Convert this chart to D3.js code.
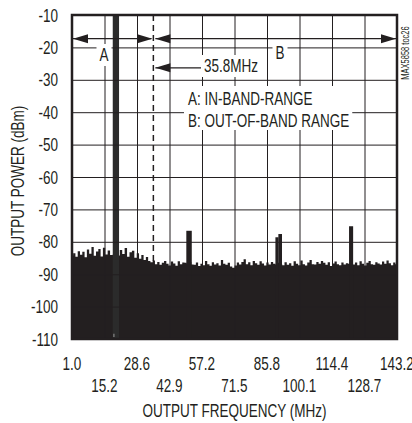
<!DOCTYPE html>
<html>
<head>
<meta charset="utf-8">
<script src="https://cdn.jsdelivr.net/npm/d3@7"></script>
<style>
  body { margin: 0; background: #fff; }
  svg text { font-family: "Liberation Sans", Arial, sans-serif; fill: #231f20; }
</style>
</head>
<body>
<div id="chart"></div>
<script>
// Spectrum plot: output power vs. output frequency
const w = 412;
const h = 423;
const margin = { left: 72, right: 15, top: 15, bottom: 84 };
const fs = 18; // font size
const squeeze = 0.75; // reference uses a condensed face

// tick labels (MHz) - one per grid division
const freqTicks = [1.0, 15.2, 28.6, 42.9, 57.2, 71.5, 85.8, 100.1, 114.4, 128.7, 143.2];
const powerTicks = [-10, -20, -30, -40, -50, -60, -70, -80, -90, -100, -110];

// noise floor, one value per MHz starting at 1 MHz
const noiseStart = 1;
const noiseStep = 1;
const noiseDbm = [
  -84.2, -83.5, -84.6, -82.9, -84.0, -83.1, -84.8, -82.4, -83.7, -81.6, -84.3, -83.0, -82.2, -84.5, -81.8, -83.9, -82.7, -84.1,
  -84.0, -83.5, -84.2,
  -82.5, -83.8, -81.9, -84.6, -83.2, -82.8, -84.9, -83.5, -85.2, -84.1, -85.6, -84.7, -85.9,
  -86.3, -85.8, -86.9, -86.2, -87.1, -86.5, -85.9, -86.8, -87.3, -86.1, -86.7, -87.4, -86.0, -86.9, -86.4,
  -86.5, -86.8, -86.2, -87.0,
  -87.1, -86.4, -87.5, -86.8, -87.2, -85.9, -86.9, -87.4, -86.3, -87.0, -86.6, -87.3, -85.6, -86.8, -87.1,
  -86.5, -87.6, -88.0, -87.3, -86.4, -87.0, -86.2, -85.4, -86.9, -86.3, -87.2, -85.9, -86.6, -87.1, -86.0,
  -86.7, -87.3, -86.4, -87.0, -86.2,
  -86.8, -87.0, -86.5, -86.9, -87.2,
  -86.3, -87.1, -86.6, -87.4, -86.0, -86.8, -87.2, -85.8, -86.9, -87.3, -86.4, -85.6, -86.9, -87.0, -86.2,
  -86.8, -85.9, -86.5, -87.1, -86.3, -87.5, -86.7, -86.1, -86.9, -87.2, -86.4, -87.0, -86.6,
  -86.8, -86.5, -87.0,
  -86.4, -87.2, -86.0, -86.8, -87.3, -86.5, -85.9, -86.9, -87.1, -86.3, -86.7, -87.0, -86.1, -86.8, -85.8,
  -86.6, -87.2, -86.4, -86.9
];

// carrier and spurs: centre frequency (MHz), width (MHz), peak (dBm)
const spurFreq = [19.9, 51.5, 90.2, 91.6, 122.8];
const spurWidth = [2.6, 2.4, 1.4, 1.6, 1.8];
const spurDbm = [0, -76.6, -78.6, -77.6, -75.2];

const bandEdge = 35.8;

const svg = d3
  .select("#chart")
  .append("svg")
  .attr("width", w)
  .attr("height", h);

// squash glyphs horizontally so Liberation Sans looks like a condensed face
function condense(sel) {
  sel.each(function () {
    const len = this.getComputedTextLength();
    d3.select(this).attr("textLength", len * squeeze).attr("lengthAdjust", "spacingAndGlyphs");
  });
  return sel;
}

// grid divisions are evenly spaced while tick values are not, so map piecewise
const xScale = d3
  .scaleLinear()
  .domain(freqTicks)
  .range(freqTicks.map((d, i) => margin.left + (i * (w - margin.left - margin.right)) / (freqTicks.length - 1)));

const yScale = d3
  .scaleLinear()
  .domain([-110, -10])
  .range([h - margin.bottom, margin.top]);

const x0 = margin.left;
const x1 = w - margin.right;
const y0 = margin.top;
const y1 = h - margin.bottom;

svg
  .append("clipPath")
  .attr("id", "plot-clip")
  .append("rect")
  .attr("x", x0)
  .attr("y", y0)
  .attr("width", x1 - x0)
  .attr("height", y1 - y0);

const plot = svg.append("g").attr("clip-path", "url(#plot-clip)");

// noise floor as filled step trace
const noise = noiseDbm.map((v, i) => [noiseStart + i * noiseStep, v]);
const area = d3
  .area()
  .x((d) => xScale(d[0]))
  .y0(y1)
  .y1((d) => yScale(d[1]))
  .curve(d3.curveStep);

plot.append("path").datum(noise).attr("d", area).attr("fill", "#231f20");

plot
  .selectAll("rect.spur")
  .data(spurFreq)
  .enter()
  .append("rect")
  .attr("class", "spur")
  .attr("x", (d, i) => xScale(d - spurWidth[i] / 2))
  .attr("width", (d, i) => xScale(d + spurWidth[i] / 2) - xScale(d - spurWidth[i] / 2))
  .attr("y", (d, i) => yScale(spurDbm[i]))
  .attr("height", (d, i) => y1 - yScale(spurDbm[i]))
  .attr("fill", (d, i) => (i === 0 ? "#2b2b2b" : "#231f20"));

// little grey mark at carrier foot
plot
  .append("line")
  .attr("x1", xScale(spurFreq[0]) - 2)
  .attr("x2", xScale(spurFreq[0]) - 2)
  .attr("y1", yScale(-109.4))
  .attr("y2", yScale(-108.4))
  .attr("stroke", "#888")
  .attr("stroke-width", 1.2);

// grid (x via axis with full-height ticks, y the same)
const xGrid = d3.axisBottom(xScale).tickValues(freqTicks).tickSize(-(y1 - y0)).tickFormat("");
const yGrid = d3.axisLeft(yScale).tickValues(powerTicks).tickSize(-(x1 - x0)).tickFormat("");

svg
  .append("g")
  .attr("transform", `translate(0, ${y1})`)
  .call(xGrid)
  .call((g) => g.select(".domain").remove())
  .call((g) => g.selectAll("line").attr("stroke", "#231f20").attr("stroke-width", 1));

svg
  .append("g")
  .attr("transform", `translate(${x0}, 0)`)
  .call(yGrid)
  .call((g) => g.select(".domain").remove())
  .call((g) => g.selectAll("line").attr("stroke", "#231f20").attr("stroke-width", 1));

// tick labels
svg
  .append("g")
  .selectAll("text")
  .data(powerTicks)
  .enter()
  .append("text")
  .attr("x", x0 - 14)
  .attr("y", (d) => yScale(d) + 6.5)
  .attr("text-anchor", "end")
  .attr("font-size", fs)
  .text((d) => d)
  .call(condense);

svg
  .append("g")
  .selectAll("text")
  .data(freqTicks)
  .enter()
  .append("text")
  .attr("x", (d) => xScale(d))
  .attr("y", (d, i) => (i % 2 === 0 ? y1 + 31 : y1 + 53))
  .attr("text-anchor", "middle")
  .attr("font-size", fs)
  .text((d) => d.toFixed(1))
  .call(condense);

svg
  .append("text")
  .attr("x", (x0 + x1) / 2)
  .attr("y", h - 6)
  .attr("text-anchor", "middle")
  .attr("font-size", fs)
  .text("OUTPUT FREQUENCY (MHz)")
  .call(condense);

svg
  .append("text")
  .attr("transform", `translate(24, ${(y0 + y1) / 2 + 4}) rotate(-90)`)
  .attr("text-anchor", "middle")
  .attr("font-size", fs)
  .text("OUTPUT POWER (dBm)")
  .call(condense);

svg
  .append("text")
  .attr("transform", `translate(409, 53) rotate(-90)`)
  .attr("text-anchor", "middle")
  .attr("font-size", 10)
  .text("MAX5858 toc26")
  .call(condense);

// band edge marker
svg
  .append("line")
  .attr("x1", xScale(bandEdge))
  .attr("x2", xScale(bandEdge))
  .attr("y1", y0)
  .attr("y2", yScale(-86))
  .attr("stroke", "#231f20")
  .attr("stroke-width", 1.5)
  .attr("stroke-dasharray", "6,4");

// range arrows
const arrowY = yScale(-17.3);
const head = (tipX, tipY, dir) => {
  const len = 15;
  const half = 4.5;
  return `M${tipX},${tipY}L${tipX - dir * len},${tipY - half}L${tipX - dir * len},${tipY + half}Z`;
};
const arrows = svg.append("g").attr("stroke", "#231f20").attr("fill", "#231f20");

arrows.append("line").attr("x1", x0).attr("x2", xScale(bandEdge) - 2).attr("y1", arrowY).attr("y2", arrowY).attr("stroke-width", 1.3);
arrows.append("path").attr("d", head(x0 + 1, arrowY, -1)).attr("stroke", "none");
arrows.append("path").attr("d", head(xScale(bandEdge) - 1, arrowY, 1)).attr("stroke", "none");

arrows.append("line").attr("x1", xScale(bandEdge) + 2).attr("x2", x1).attr("y1", arrowY).attr("y2", arrowY).attr("stroke-width", 1.3);
arrows.append("path").attr("d", head(xScale(bandEdge) + 2, arrowY, -1)).attr("stroke", "none");
arrows.append("path").attr("d", head(x1 - 1, arrowY, 1)).attr("stroke", "none");

const markY = yScale(-26.3);
arrows.append("line").attr("x1", xScale(bandEdge) + 2).attr("x2", 202).attr("y1", markY).attr("y2", markY).attr("stroke-width", 1.3);
arrows.append("path").attr("d", head(xScale(bandEdge) + 2, markY, -1)).attr("stroke", "none");

// labels with white backing
const label = (text, x, y, anchor) => {
  const t = svg
    .append("text")
    .attr("x", x)
    .attr("y", y)
    .attr("text-anchor", anchor)
    .attr("font-size", fs)
    .text(text)
    .call(condense);
  const b = t.node().getBBox();
  svg
    .insert("rect", () => t.node())
    .attr("x", b.x - 3)
    .attr("y", b.y - 1)
    .attr("width", b.width + 6)
    .attr("height", b.height + 2)
    .attr("fill", "#fff");
  return t;
};

label("A", 104, 61, "middle");
label("B", 280, 59, "middle");
label("35.8MHz", 204, 72, "start");

const box = svg.append("rect").attr("fill", "#fff");
svg.append("text").attr("x", 188).attr("y", 105).attr("font-size", fs).text("A: IN-BAND-RANGE").call(condense);
const l2 = svg.append("text").attr("x", 188).attr("y", 127).attr("font-size", fs).text("B: OUT-OF-BAND RANGE").call(condense);
const bb = l2.node().getBBox();
box
  .attr("x", 184)
  .attr("y", 86)
  .attr("width", bb.x + bb.width + 3 - 184)
  .attr("height", 130 - 86);

// frame
svg
  .append("rect")
  .attr("x", x0)
  .attr("y", y0)
  .attr("width", x1 - x0)
  .attr("height", y1 - y0)
  .attr("fill", "none")
  .attr("stroke", "#231f20")
  .attr("stroke-width", 2.5);
</script>
</body>
</html>
